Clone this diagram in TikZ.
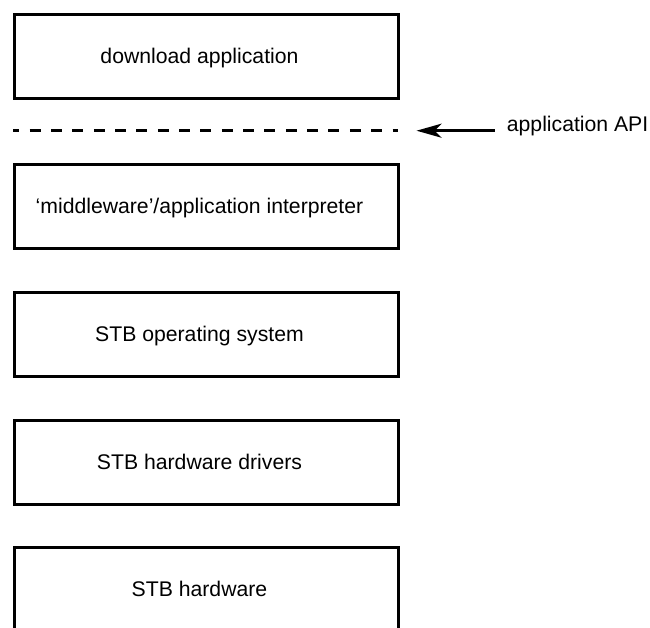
\documentclass[tikz,border=0pt]{standalone}
\usepackage{fontspec}
\setmainfont{Liberation Sans}
\usetikzlibrary{arrows.meta}
\begin{document}
\begin{tikzpicture}[x=0.5pt,y=-0.5pt,
  layer/.style={draw=black,line width=1.5pt,minimum width=192pt,minimum height=42pt,inner sep=0pt},
  layertext/.style={anchor=base,inner sep=0pt,font=\fontsize{10.6pt}{12pt}\selectfont},
  apiline/.style={line width=1.35pt,dash pattern=on 5.5pt off 5.17pt,dash phase=2.3pt},
  apiarrow/.style={line width=1.5pt,-{Stealth[length=12.5pt,width=7pt,inset=3.5pt]}}]
\useasboundingbox (0,0) rectangle (650,628);
\clip (0,0) rectangle (650,628);

% software/hardware stack
\node[layer] (b1) at (206.7,56.5) {};
\node[layer] (b2) at (206.7,206.3) {};
\node[layer] (b3) at (206.7,334.5) {};
\node[layer] (b4) at (206.7,462.5) {};
\node[layer] (b5) at (206.7,589) {};

\node[layertext] (t1) at (199.5,63.3) {download application};
\node[layertext] (t2) at (199.5,213.3) {‘middleware’/application interpreter};
\node[layertext] (t3) at (199.5,341.3) {STB operating system};
\node[layertext] (t4) at (199.5,469.3) {STB hardware drivers};
\node[layertext] (t5) at (199.5,596) {STB hardware};

% application API boundary
\coordinate (d1) at (13,130.7);
\coordinate (d2) at (398.5,130.7);
\draw[apiline] (d1) -- (d2);

\node[layertext,anchor=base west] (api) at (506.5,131.7) {application API};
\coordinate (a1) at (495,130.7);
\coordinate (a2) at (416.5,130.7);
\draw[apiarrow] (a1) -- (a2);
\end{tikzpicture}
\end{document}
